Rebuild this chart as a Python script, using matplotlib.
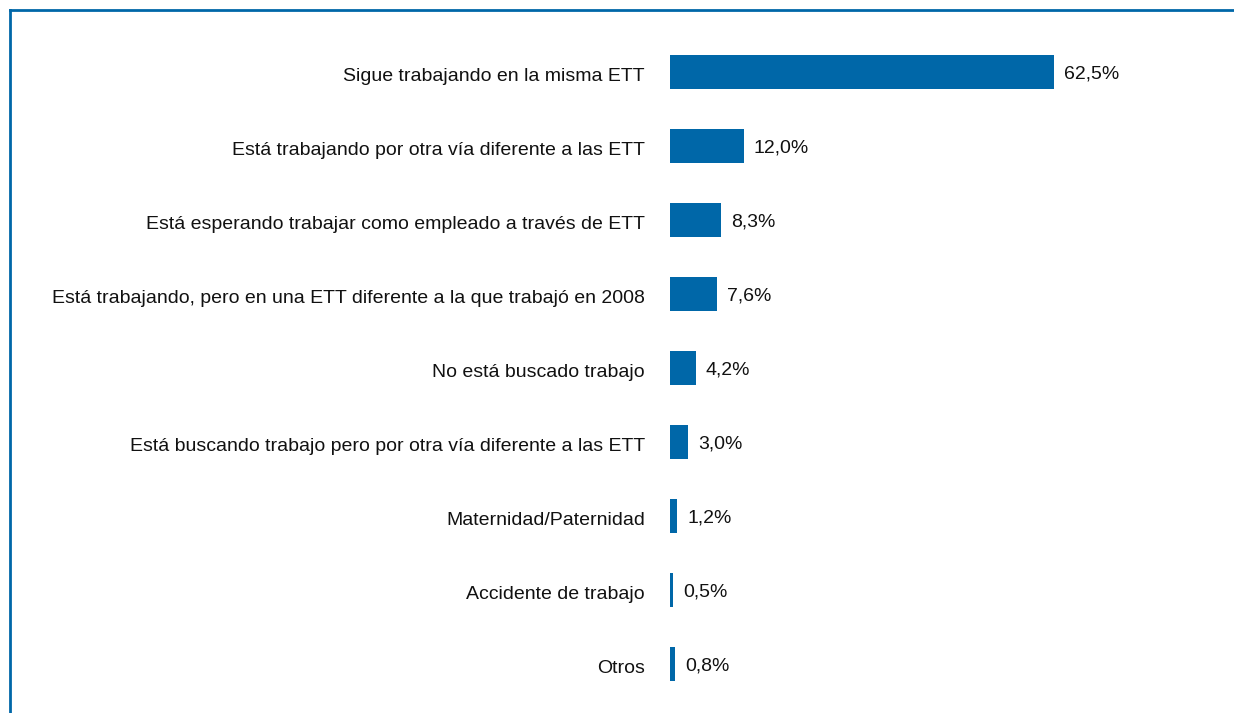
import matplotlib.pyplot as plt
import matplotlib.transforms as mtransforms
from matplotlib.lines import Line2D

plt.rcParams['font.family'] = ['Liberation Sans', 'DejaVu Sans']

categories = [
    'Sigue trabajando en la misma ETT',
    'Está trabajando por otra vía diferente a las ETT',
    'Está esperando trabajar como empleado a través de ETT',
    'Está trabajando, pero en una ETT diferente a la que trabajó en 2008',
    'No está buscado trabajo',
    'Está buscando trabajo pero por otra vía diferente a las ETT',
    'Maternidad/Paternidad',
    'Accidente de trabajo',
    'Otros',
]
values = [62.5, 12.0, 8.3, 7.6, 4.2, 3.0, 1.2, 0.5, 0.8]
labels = ['62,5%', '12,0%', '8,3%', '7,6%', '4,2%', '3,0%', '1,2%', '0,5%', '0,8%']

blue = '#0067a8'
W, H = 1234, 713

fig = plt.figure(figsize=(W / 100, H / 100), dpi=100)

# frame lines (left and top) around the chart
fig.add_artist(Line2D([9.5 / W, 9.5 / W], [0, 1 - 9.5 / H], color=blue, lw=2.0,
                      transform=fig.transFigure))
fig.add_artist(Line2D([9.5 / W, 1], [1 - 9.5 / H, 1 - 9.5 / H], color=blue, lw=2.0,
                      transform=fig.transFigure))

x0 = 670
ax = fig.add_axes([x0 / W, 1 - 701 / H, (W - x0) / W, (701 - 35) / H])
ax.barh(range(len(values)), values, height=0.45, color=blue)
ax.set_xlim(0, (W - x0) / 6.144)
ax.set_ylim(len(values) - 0.5, -0.5)

for i, (v, lab) in enumerate(zip(values, labels)):
    ax.annotate(lab, (v, i), xytext=(10, -2), textcoords='offset pixels',
                va='center', ha='left', fontsize=14, color='#111111')

ax.set_yticks(range(len(values)))
ax.set_yticklabels(categories, fontsize=14, color='#111111')
ax.tick_params(axis='y', length=0, pad=18)
# nudge category labels slightly down
shift = mtransforms.ScaledTranslation(0, -2.5 / 100, fig.dpi_scale_trans)
for t in ax.get_yticklabels():
    t.set_transform(t.get_transform() + shift)
ax.set_xticks([])
for s in ax.spines.values():
    s.set_visible(False)

fig.savefig('out.png', dpi=100)
